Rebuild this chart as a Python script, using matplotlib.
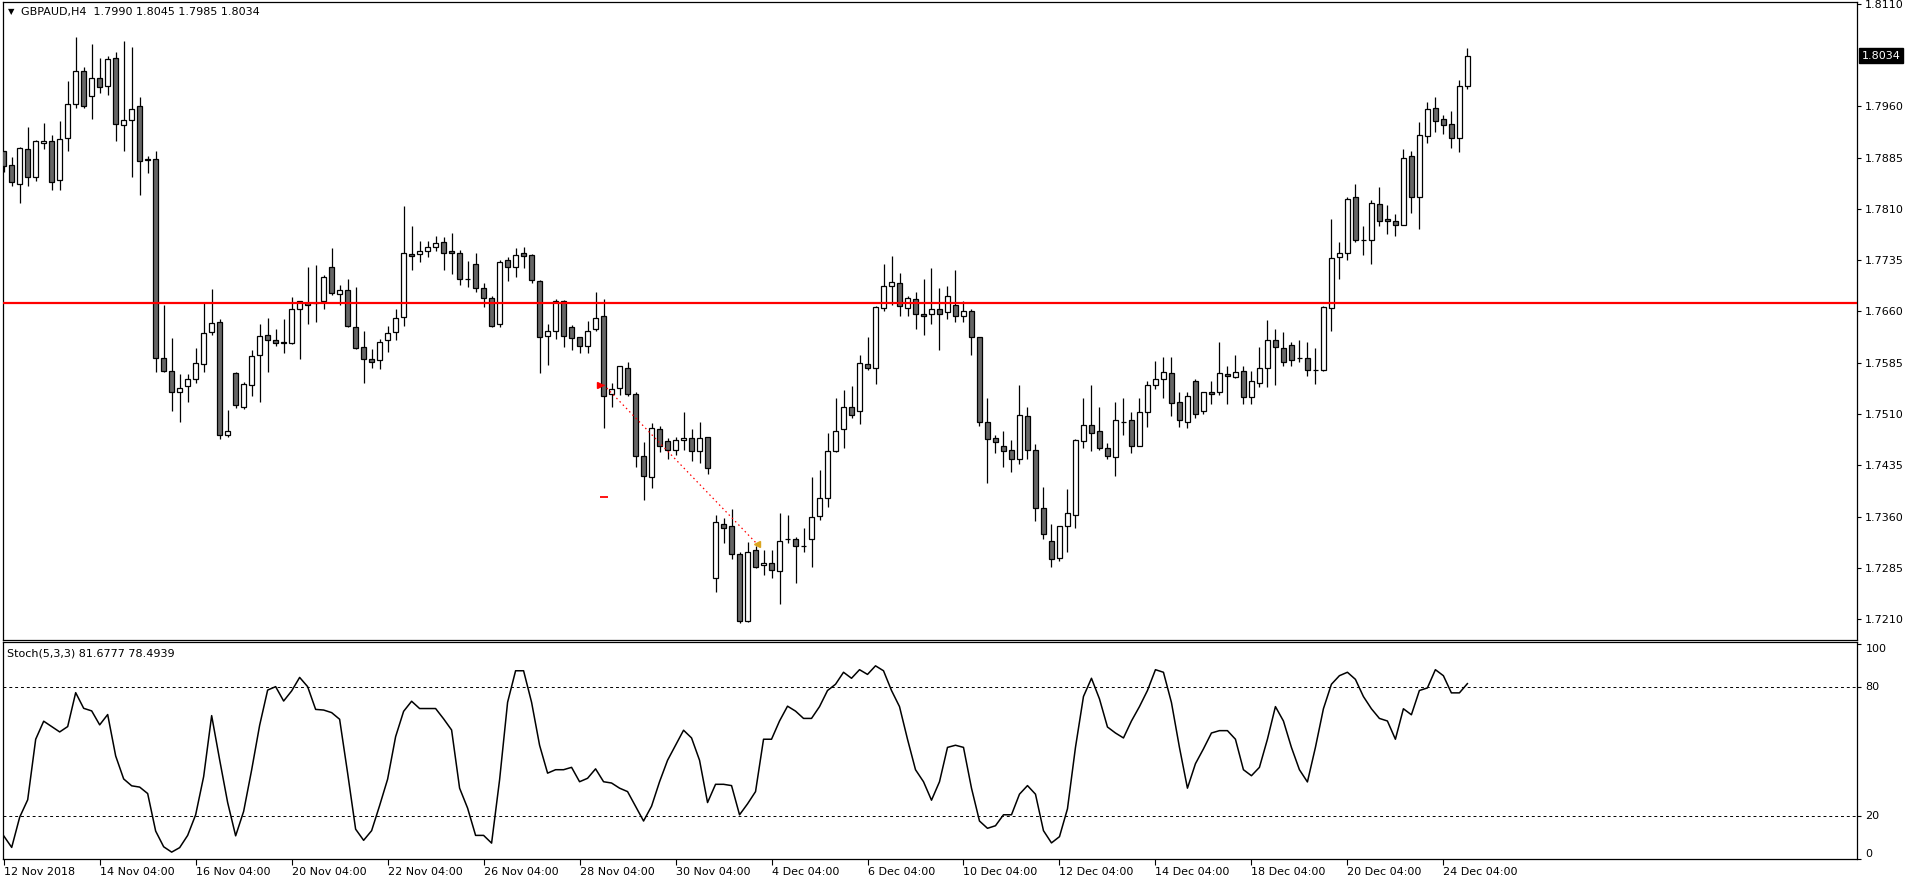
import numpy as np
import matplotlib.pyplot as plt
from matplotlib.transforms import blended_transform_factory

# =========================
# DATA (GBPAUD H4)
# =========================

opens = [
    1.7894, 1.7874, 1.7847, 1.7897, 1.7856, 1.7907, 1.7910, 1.7852, 1.7913, 1.7963,
    1.8011, 1.7975, 1.8002, 1.7989, 1.8030, 1.7932, 1.7940, 1.7960, 1.7883, 1.7883,
    1.7592, 1.7573, 1.7543, 1.7551, 1.7561, 1.7583, 1.7630, 1.7644, 1.7480, 1.7570,
    1.7521, 1.7552, 1.7596, 1.7626, 1.7619, 1.7615, 1.7614, 1.7663, 1.7673, 1.7672,
    1.7676, 1.7725, 1.7685, 1.7691, 1.7638, 1.7608, 1.7591, 1.7589, 1.7618, 1.7630,
    1.7652, 1.7744, 1.7744, 1.7748, 1.7755, 1.7761, 1.7748, 1.7746, 1.7708, 1.7730,
    1.7695, 1.7679, 1.7641, 1.7735, 1.7725, 1.7746, 1.7742, 1.7704, 1.7624, 1.7631,
    1.7676, 1.7638, 1.7622, 1.7609, 1.7634, 1.7653, 1.7540, 1.7548, 1.7578, 1.7540,
    1.7448, 1.7418, 1.7488, 1.7470, 1.7457, 1.7472, 1.7475, 1.7456, 1.7476, 1.7271,
    1.7350, 1.7346, 1.7306, 1.7207, 1.7311, 1.7289, 1.7293, 1.7280, 1.7328, 1.7327,
    1.7317, 1.7328, 1.7361, 1.7388, 1.7456, 1.7488, 1.7520, 1.7515, 1.7583, 1.7577,
    1.7665, 1.7698, 1.7701, 1.7665, 1.7678, 1.7657, 1.7656, 1.7663, 1.7659, 1.7670,
    1.7654, 1.7660, 1.7622, 1.7499, 1.7475, 1.7464, 1.7457, 1.7445, 1.7507, 1.7458,
    1.7372, 1.7325, 1.7299, 1.7347, 1.7363, 1.7470, 1.7494, 1.7486, 1.7461, 1.7447,
    1.7499, 1.7502, 1.7464, 1.7513, 1.7553, 1.7561, 1.7570, 1.7527, 1.7499, 1.7559,
    1.7515, 1.7542, 1.7543, 1.7568, 1.7564, 1.7573, 1.7535, 1.7556, 1.7578, 1.7619,
    1.7606, 1.7611, 1.7592, 1.7592, 1.7575, 1.7575, 1.7665, 1.7739, 1.7745, 1.7827,
    1.7765, 1.7764, 1.7817, 1.7795, 1.7793, 1.7787, 1.7887, 1.7828, 1.7916, 1.7958,
    1.7941, 1.7934, 1.7913, 1.7990,
]

highs = [
    1.7895, 1.7886, 1.7900, 1.7930, 1.7911, 1.7936, 1.7918, 1.7939, 1.7997, 1.8061,
    1.8017, 1.8051, 1.8031, 1.8034, 1.8040, 1.8055, 1.8047, 1.7974, 1.7887, 1.7894,
    1.7670, 1.7621, 1.7569, 1.7569, 1.7607, 1.7672, 1.7693, 1.7649, 1.7516, 1.7571,
    1.7557, 1.7604, 1.7642, 1.7650, 1.7634, 1.7649, 1.7681, 1.7676, 1.7725, 1.7728,
    1.7714, 1.7753, 1.7699, 1.7707, 1.7696, 1.7631, 1.7605, 1.7620, 1.7639, 1.7664,
    1.7814, 1.7785, 1.7763, 1.7763, 1.7770, 1.7769, 1.7775, 1.7750, 1.7734, 1.7745,
    1.7702, 1.7683, 1.7735, 1.7739, 1.7753, 1.7754, 1.7744, 1.7706, 1.7642, 1.7678,
    1.7677, 1.7640, 1.7623, 1.7646, 1.7688, 1.7678, 1.7555, 1.7580, 1.7586, 1.7543,
    1.7469, 1.7497, 1.7492, 1.7475, 1.7477, 1.7513, 1.7488, 1.7499, 1.7477, 1.7363,
    1.7358, 1.7371, 1.7309, 1.7323, 1.7317, 1.7311, 1.7312, 1.7366, 1.7363, 1.7331,
    1.7344, 1.7418, 1.7428, 1.7483, 1.7534, 1.7545, 1.7551, 1.7597, 1.7622, 1.7668,
    1.7729, 1.7741, 1.7717, 1.7682, 1.7689, 1.7707, 1.7723, 1.7695, 1.7698, 1.7720,
    1.7676, 1.7663, 1.7623, 1.7534, 1.7480, 1.7486, 1.7472, 1.7553, 1.7521, 1.7466,
    1.7404, 1.7350, 1.7347, 1.7400, 1.7473, 1.7533, 1.7552, 1.7520, 1.7467, 1.7527,
    1.7534, 1.7513, 1.7533, 1.7558, 1.7587, 1.7593, 1.7594, 1.7542, 1.7543, 1.7561,
    1.7543, 1.7559, 1.7616, 1.7580, 1.7597, 1.7581, 1.7573, 1.7608, 1.7647, 1.7635,
    1.7630, 1.7616, 1.7619, 1.7616, 1.7606, 1.7668, 1.7795, 1.7761, 1.7828, 1.7846,
    1.7785, 1.7823, 1.7842, 1.7815, 1.7802, 1.7897, 1.7894, 1.7937, 1.7966, 1.7973,
    1.7947, 1.7953, 1.7999, 1.8045,
]

lows = [
    1.7864, 1.7844, 1.7819, 1.7843, 1.7851, 1.7897, 1.7838, 1.7837, 1.7895, 1.7958,
    1.7957, 1.7942, 1.7979, 1.7976, 1.7910, 1.7894, 1.7856, 1.7831, 1.7863, 1.7572,
    1.7572, 1.7514, 1.7499, 1.7528, 1.7556, 1.7572, 1.7626, 1.7473, 1.7477, 1.7519,
    1.7518, 1.7536, 1.7527, 1.7572, 1.7609, 1.7600, 1.7613, 1.7591, 1.7641, 1.7645,
    1.7664, 1.7684, 1.7669, 1.7638, 1.7605, 1.7556, 1.7578, 1.7576, 1.7601, 1.7619,
    1.7639, 1.7720, 1.7733, 1.7740, 1.7749, 1.7720, 1.7715, 1.7699, 1.7696, 1.7689,
    1.7667, 1.7638, 1.7638, 1.7704, 1.7711, 1.7724, 1.7701, 1.7570, 1.7582, 1.7620,
    1.7608, 1.7603, 1.7600, 1.7600, 1.7632, 1.7490, 1.7521, 1.7538, 1.7537, 1.7433,
    1.7385, 1.7402, 1.7455, 1.7445, 1.7450, 1.7458, 1.7442, 1.7439, 1.7422, 1.7250,
    1.7321, 1.7298, 1.7205, 1.7206, 1.7285, 1.7275, 1.7271, 1.7233, 1.7321, 1.7263,
    1.7309, 1.7286, 1.7355, 1.7374, 1.7455, 1.7461, 1.7504, 1.7495, 1.7574, 1.7554,
    1.7660, 1.7669, 1.7654, 1.7654, 1.7635, 1.7626, 1.7642, 1.7603, 1.7649, 1.7645,
    1.7644, 1.7597, 1.7492, 1.7409, 1.7453, 1.7433, 1.7425, 1.7437, 1.7444, 1.7353,
    1.7327, 1.7286, 1.7295, 1.7309, 1.7343, 1.7461, 1.7456, 1.7458, 1.7444, 1.7420,
    1.7479, 1.7453, 1.7463, 1.7491, 1.7546, 1.7534, 1.7507, 1.7491, 1.7490, 1.7505,
    1.7510, 1.7525, 1.7538, 1.7525, 1.7563, 1.7525, 1.7525, 1.7549, 1.7549, 1.7552,
    1.7581, 1.7581, 1.7586, 1.7565, 1.7554, 1.7573, 1.7631, 1.7708, 1.7736, 1.7761,
    1.7742, 1.7729, 1.7785, 1.7773, 1.7770, 1.7786, 1.7804, 1.7780, 1.7906, 1.7922,
    1.7920, 1.7899, 1.7893, 1.7985,
]

closes = [
    1.7873, 1.7849, 1.7899, 1.7856, 1.7909, 1.7910, 1.7850, 1.7912, 1.7964, 1.8011,
    1.7961, 1.8001, 1.7988, 1.8029, 1.7934, 1.7940, 1.7956, 1.7880, 1.7881, 1.7592,
    1.7573, 1.7542, 1.7548, 1.7562, 1.7584, 1.7628, 1.7643, 1.7479, 1.7486, 1.7523,
    1.7554, 1.7595, 1.7624, 1.7619, 1.7614, 1.7614, 1.7663, 1.7675, 1.7670, 1.7672,
    1.7711, 1.7687, 1.7692, 1.7639, 1.7606, 1.7591, 1.7586, 1.7616, 1.7628, 1.7650,
    1.7745, 1.7741, 1.7749, 1.7755, 1.7760, 1.7746, 1.7746, 1.7708, 1.7708, 1.7695,
    1.7679, 1.7639, 1.7733, 1.7725, 1.7742, 1.7741, 1.7706, 1.7622, 1.7632, 1.7676,
    1.7624, 1.7621, 1.7610, 1.7632, 1.7651, 1.7537, 1.7546, 1.7580, 1.7540, 1.7448,
    1.7419, 1.7489, 1.7463, 1.7458, 1.7472, 1.7475, 1.7456, 1.7475, 1.7431, 1.7352,
    1.7344, 1.7306, 1.7208, 1.7309, 1.7287, 1.7293, 1.7282, 1.7325, 1.7327, 1.7317,
    1.7317, 1.7359, 1.7388, 1.7456, 1.7486, 1.7521, 1.7508, 1.7584, 1.7578, 1.7666,
    1.7697, 1.7703, 1.7668, 1.7679, 1.7656, 1.7654, 1.7663, 1.7657, 1.7682, 1.7654,
    1.7660, 1.7622, 1.7498, 1.7473, 1.7469, 1.7456, 1.7445, 1.7508, 1.7458, 1.7372,
    1.7334, 1.7298, 1.7346, 1.7365, 1.7472, 1.7494, 1.7482, 1.7460, 1.7448, 1.7501,
    1.7499, 1.7464, 1.7513, 1.7553, 1.7562, 1.7571, 1.7526, 1.7501, 1.7537, 1.7510,
    1.7542, 1.7540, 1.7570, 1.7565, 1.7571, 1.7535, 1.7559, 1.7578, 1.7618, 1.7608,
    1.7586, 1.7589, 1.7592, 1.7575, 1.7575, 1.7666, 1.7738, 1.7746, 1.7825, 1.7764,
    1.7765, 1.7818, 1.7793, 1.7793, 1.7787, 1.7885, 1.7827, 1.7918, 1.7956, 1.7939,
    1.7932, 1.7913, 1.7989, 1.8034,
]

stoch = [
    10.8, 5.4, 19.5, 27.6, 55.8, 64.2, 61.7, 59.2, 61.7, 77.5,
    70.2, 69.0, 62.5, 67.3, 48.0, 37.3, 34.1, 33.5, 30.5, 13.0,
    5.7, 3.2, 5.3, 11.0, 20.6, 38.4, 66.8, 46.2, 26.3, 10.8,
    22.2, 41.5, 62.3, 78.7, 80.3, 73.6, 78.3, 84.6, 80.3, 69.7,
    69.4, 68.2, 65.1, 40.0, 13.9, 8.7, 13.2, 24.9, 37.2, 57.0,
    68.8, 73.5, 70.1, 70.1, 70.1, 65.3, 60.1, 33.0, 23.7, 11.0,
    11.0, 7.4, 36.9, 73.0, 87.7, 87.7, 73.0, 53.0, 40.0, 41.6,
    41.6, 42.7, 36.0, 37.6, 42.0, 36.0, 35.4, 33.0, 31.4, 24.6,
    17.7, 24.6, 36.0, 46.0, 53.0, 60.0, 56.4, 46.0, 26.3, 34.8,
    34.8, 34.2, 20.6, 25.7, 31.4, 55.8, 55.8, 64.3, 71.2, 68.9,
    65.5, 65.5, 71.0, 78.5, 81.4, 87.0, 84.2, 88.2, 86.0, 90.0,
    87.7, 78.5, 71.0, 55.8, 41.6, 36.0, 27.4, 36.0, 52.0, 53.0,
    52.0, 33.0, 17.7, 14.3, 15.5, 20.6, 20.6, 30.2, 34.2, 30.2,
    13.2, 7.5, 10.4, 23.4, 52.0, 75.7, 84.2, 74.6, 61.5, 58.7,
    56.4, 64.3, 71.0, 78.5, 88.2, 87.0, 72.9, 52.0, 33.0, 44.4,
    51.3, 58.7, 59.8, 59.8, 55.8, 41.6, 38.8, 42.7, 55.8, 71.0,
    64.3, 52.0, 41.6, 35.9, 52.0, 70.0, 81.4, 85.4, 87.0, 83.7,
    75.7, 70.0, 65.5, 64.3, 55.8, 70.0, 67.2, 78.5, 79.7, 88.2,
    85.4, 77.4, 77.4, 81.7,
]

time_labels = [
    "12 Nov 2018", "14 Nov 04:00", "16 Nov 04:00", "20 Nov 04:00",
    "22 Nov 04:00", "26 Nov 04:00", "28 Nov 04:00", "30 Nov 04:00",
    "4 Dec 04:00", "6 Dec 04:00", "10 Dec 04:00", "12 Dec 04:00",
    "14 Dec 04:00", "18 Dec 04:00", "20 Dec 04:00", "24 Dec 04:00",
]

price_ticks = [1.8110, 1.7960, 1.7885, 1.7810, 1.7735, 1.7660,
               1.7585, 1.7510, 1.7435, 1.7360, 1.7285, 1.7210]

level_price = 1.7672
entry_bar, entry_price = 75, 1.7553
exit_bar, exit_price = 94.2, 1.7320
stop_price = 1.7389

header = "GBPAUD,H4  1.7990 1.8045 1.7985 1.8034"
stoch_header = "Stoch(5,3,3) 81.6777 78.4939"

# =========================
# FIGURE LAYOUT (pixels)
# =========================

W, H = 1916, 884
fig = plt.figure(figsize=(W / 100, H / 100), dpi=100)
fig.patch.set_facecolor("white")

left, right = 2.5, 1857
ax = fig.add_axes([left / W, 1 - 640 / H, (right - left) / W, 638 / H])
ax2 = fig.add_axes([left / W, 1 - 859 / H, (right - left) / W, 217 / H])

n = len(opens)
x = np.arange(n)
o = np.array(opens)
c = np.array(closes)

# =========================
# CANDLES
# =========================

ax.vlines(x, lows, highs, color="black", linewidth=0.9, zorder=2)
body_low = np.minimum(o, c)
body_h = np.abs(c - o)
fills = np.where(c >= o, "white", "#666666")
ax.bar(x, body_h, bottom=body_low, width=0.55, color=fills,
       edgecolor="black", linewidth=0.9, zorder=3)

ax.axhline(level_price, color="#ff0000", linewidth=1.6, zorder=4)

# trade marks
ax.plot([entry_bar, exit_bar], [entry_price, exit_price], color="#ff0000",
        linewidth=0.9, linestyle=(0, (1.2, 2.5)), zorder=5)
ax.plot(entry_bar - 0.4, entry_price, marker=">", color="#ff0000",
        markersize=5, zorder=6)
ax.plot(exit_bar, exit_price, marker="<", color="#daa520",
        markersize=5, zorder=6)
ax.plot(entry_bar, stop_price, marker="_", color="#ff0000",
        markersize=6, markeredgewidth=1.3, zorder=6)

xlim = (-0.15, (right - 3.3) / 8)
ax.set_xlim(xlim)
ax.set_ylim(1.71797, 1.81125)
ax.yaxis.tick_right()
ax.set_yticks(price_ticks)
ax.set_yticklabels([f"{p:.4f}" for p in price_ticks])
ax.tick_params(axis="y", direction="out", length=3, width=0.8,
               pad=2.5, labelsize=8)
ax.set_xticks([])

# current price tag
tr = blended_transform_factory(ax.transAxes, ax.transData)
ax.text(1.0025, closes[-1], f"{closes[-1]:.4f}", transform=tr,
        color="white", fontsize=8, va="center", ha="left",
        bbox=dict(boxstyle="square,pad=0.2", facecolor="black",
                  edgecolor="black"), clip_on=False, zorder=10)

# =========================
# STOCHASTIC
# =========================

ax2.plot(x, stoch, color="black", linewidth=1.1)
ax2.axhline(80, color="black", linewidth=0.7, linestyle=(0, (3, 3)))
ax2.axhline(20, color="black", linewidth=0.7, linestyle=(0, (3, 3)))
ax2.set_xlim(xlim)
ax2.set_ylim(0, 101.1)
ax2.yaxis.tick_right()
ax2.set_yticks([100, 80, 20, 0])
ax2.set_yticklabels([])
ax2.tick_params(axis="y", direction="out", length=3, width=0.8)
tr2 = blended_transform_factory(ax2.transAxes, ax2.transData)
for val, va in [(100, "top"), (80, "center"), (20, "center"), (0, "bottom")]:
    ax2.text(1.0045, val, str(val), transform=tr2, fontsize=8,
             va=va, ha="left", clip_on=False)

ax2.set_xticks(np.arange(len(time_labels)) * 12)
ax2.set_xticklabels(time_labels, ha="left")
ax2.tick_params(axis="x", direction="out", length=4, width=0.8,
                pad=1.5, labelsize=8)

for a in (ax, ax2):
    for s in a.spines.values():
        s.set_linewidth(0.9)
        s.set_color("black")

# headers
fig.text(8 / W, 1 - 12 / H, "\u25bc", fontsize=6, va="center", ha="left")
fig.text(21 / W, 1 - 12 / H, header, fontsize=8, va="center", ha="left")
fig.text(7 / W, 1 - 653 / H, stoch_header, fontsize=8, va="center", ha="left")

fig.savefig("out.png", dpi=100, facecolor="white")
